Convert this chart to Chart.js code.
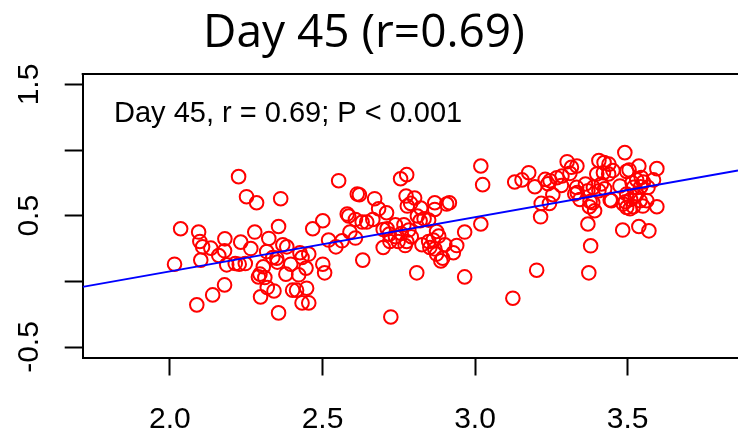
<!DOCTYPE html>
<html>
<head>
<meta charset="utf-8">
<script src="https://cdn.jsdelivr.net/npm/chart.js@4.4.1/dist/chart.umd.min.js"></script>
<style>
  html, body { margin: 0; padding: 0; background: #fff; }
  canvas { display: block; }
</style>
</head>
<body>
<canvas id="chart" width="738" height="434"></canvas>
<script>
// --- data ---
const titleText = 'Day 45 (r=0.69)';
const noteText = 'Day 45, r = 0.69; P < 0.001';

const xTicks = [2.0, 2.5, 3.0, 3.5];
const yTicks = [-0.5, 0, 0.5, 1.0, 1.5];
const yTickLabels = ['-0.5', '', '0.5', '', '1.5'];

// fitted line, drawn edge to edge of the plot box
const lineX = [1.714, 3.862];
const lineY = [-0.042, 0.844];

// left group
const xLeft = [2.225, 2.251, 2.284, 2.363, 2.035, 2.094, 2.098, 2.107, 2.134, 2.160,
  2.180, 2.179, 2.232, 2.265, 2.278, 2.324, 2.356, 2.370, 2.383, 2.317,
  2.015, 2.101, 2.186, 2.214, 2.227, 2.247, 2.350, 2.352, 2.306, 2.295,
  2.311, 2.290, 2.380, 2.396, 2.422, 2.433, 2.426, 2.455, 2.446, 2.501,
  2.507, 2.468, 2.501, 2.179, 2.140, 2.088, 2.319, 2.341, 2.297, 2.402,
  2.415, 2.448, 2.433, 2.455, 2.356, 2.337];
const yLeft = [0.798, 0.645, 0.599, 0.630, 0.401, 0.376, 0.304, 0.263, 0.253, 0.197,
  0.324, 0.233, 0.299, 0.250, 0.376, 0.327, 0.418, 0.279, 0.263, 0.227,
  0.131, 0.162, 0.126, 0.136, 0.131, 0.136, 0.177, 0.147, 0.111, 0.055,
  0.029, 0.034, 0.055, 0.131, 0.050, 0.182, 0.218, 0.208, 0.101, 0.131,
  0.065, 0.401, 0.462, -0.027, -0.103, -0.179, -0.047, -0.073, -0.118, -0.067,
  -0.067, -0.052, -0.164, -0.164, -0.240, 0.182];

// middle group
const xMid = [2.553, 2.614, 2.621, 2.671, 2.684, 2.710, 2.756, 2.776, 2.774, 2.802,
  2.778, 2.789, 2.822, 2.868, 2.868, 2.907, 2.916, 3.019, 3.025, 2.581,
  2.586, 2.608, 2.630, 2.645, 2.665, 2.590, 2.608, 2.564, 2.544, 2.520,
  2.712, 2.739, 2.767, 2.783, 2.719, 2.739, 2.758, 2.791, 2.721, 2.748,
  2.776, 2.699, 2.771, 2.811, 2.833, 2.848, 2.820, 2.874, 2.881, 2.826,
  2.848, 2.852, 2.863, 2.868, 2.874, 2.888, 2.894, 2.901, 2.929, 2.940,
  2.966, 3.019, 2.632, 2.809, 2.966, 2.724, 2.699];
const yMid = [0.767, 0.666, 0.660, 0.630, 0.553, 0.523, 0.782, 0.813, 0.650, 0.635,
  0.574, 0.594, 0.559, 0.599, 0.548, 0.589, 0.599, 0.879, 0.737, 0.513,
  0.498, 0.472, 0.452, 0.452, 0.472, 0.376, 0.330, 0.309, 0.263, 0.315,
  0.401, 0.431, 0.431, 0.391, 0.360, 0.340, 0.365, 0.340, 0.304, 0.304,
  0.304, 0.258, 0.273, 0.498, 0.477, 0.467, 0.462, 0.380, 0.345, 0.279,
  0.304, 0.258, 0.315, 0.248, 0.208, 0.156, 0.177, 0.279, 0.218, 0.273,
  0.376, 0.437, 0.162, 0.065, 0.034, -0.271, 0.395];

// right group
const xRight = [3.130, 3.154, 3.176, 3.196, 3.230, 3.246, 3.239, 3.285, 3.283, 3.302,
  3.311, 3.316, 3.334, 3.255, 3.217, 3.244, 3.215, 3.333, 3.327, 3.344,
  3.370, 3.377, 3.375, 3.392, 3.386, 3.406, 3.423, 3.439, 3.452, 3.399,
  3.421, 3.438, 3.414, 3.425, 3.406, 3.447, 3.491, 3.497, 3.537, 3.596,
  3.475, 3.515, 3.530, 3.545, 3.552, 3.519, 3.543, 3.567, 3.585, 3.497,
  3.530, 3.486, 3.497, 3.519, 3.550, 3.563, 3.596, 3.541, 3.508, 3.493,
  3.370, 3.484, 3.537, 3.570, 3.379, 3.202, 3.373, 3.124, 3.362, 3.268,
  3.443, 3.510, 3.525, 3.388, 3.335, 3.505];
const yRight = [0.757, 0.773, 0.828, 0.721, 0.777, 0.767, 0.744, 0.803, 0.731, 0.912,
  0.823, 0.869, 0.879, 0.660, 0.594, 0.594, 0.492, 0.716, 0.666, 0.624,
  0.691, 0.609, 0.569, 0.538, 0.599, 0.920, 0.905, 0.893, 0.844, 0.818,
  0.828, 0.818, 0.742, 0.706, 0.691, 0.615, 0.981, 0.838, 0.879, 0.859,
  0.727, 0.752, 0.773, 0.792, 0.757, 0.716, 0.721, 0.716, 0.773, 0.666,
  0.666, 0.589, 0.563, 0.569, 0.574, 0.615, 0.569, 0.615, 0.553, 0.607,
  0.437, 0.391, 0.418, 0.385, 0.271, 0.085, 0.065, -0.128, 0.742, 0.790,
  0.620, 0.624, 0.650, 0.716, 0.676, 0.849];

const xValues = [...xLeft, ...xMid, ...xRight];
const yValues = [...yLeft, ...yMid, ...yRight];

// --- helpers ---
function toPoints(xs, ys) {
  return xs.map((x, i) => ({ x: x, y: ys[i] }));
}

// box top edge (R draws a full frame, right side is cut off in the reference)
const frameAndText = {
  id: 'frameAndText',
  afterDraw(chart) {
    const { ctx, chartArea } = chart;
    ctx.save();
    ctx.strokeStyle = '#000';
    ctx.lineWidth = 2;
    ctx.beginPath();
    ctx.moveTo(chartArea.left - 1, chartArea.top);
    ctx.lineTo(chartArea.right + 2, chartArea.top);
    ctx.stroke();

    ctx.fillStyle = '#000';
    ctx.textBaseline = 'alphabetic';
    ctx.textAlign = 'left';
    ctx.font = '46px "Open Sans"';
    ctx.fillText(titleText, 203, 47);

    ctx.font = '29px "Liberation Sans", Arial, sans-serif';
    ctx.fillText(noteText, 114, 122);
    ctx.restore();
  }
};

const ctx = document.getElementById('chart').getContext('2d');
new Chart(ctx, {
  type: 'scatter',
  data: {
    datasets: [
      {
        type: 'line',
        data: toPoints(lineX, lineY),
        borderColor: '#0000ff',
        borderWidth: 2,
        pointRadius: 0,
        fill: false
      },
      {
        data: toPoints(xValues, yValues),
        pointStyle: 'circle',
        pointRadius: 6.8,
        pointBorderWidth: 2,
        pointBorderColor: '#ff0000',
        pointBackgroundColor: 'rgba(0,0,0,0)',
        showLine: false
      }
    ]
  },
  options: {
    responsive: false,
    animation: false,
    layout: { autoPadding: false, padding: { top: 74, left: 0, right: 0, bottom: 0 } },
    plugins: {
      legend: { display: false },
      title: { display: false },
      tooltip: { enabled: false }
    },
    scales: {
      x: {
        type: 'linear',
        min: 1.714,
        max: 3.862,
        afterBuildTicks: (scale) => { scale.ticks = xTicks.map(v => ({ value: v })); },
        afterFit: (scale) => { scale.height = 76.5; },
        ticks: {
          callback: (v) => v.toFixed(1),
          color: '#000',
          font: { family: '"Liberation Sans", Arial, sans-serif', size: 30 },
          padding: 26,
          maxRotation: 0
        },
        grid: { drawOnChartArea: false, tickLength: 18, tickColor: '#000', tickWidth: 2 },
        border: { display: true, color: '#000', width: 2 }
      },
      y: {
        type: 'linear',
        min: -0.58,
        max: 1.58,
        afterBuildTicks: (scale) => { scale.ticks = yTicks.map(v => ({ value: v })); },
        afterFit: (scale) => { scale.width = 82.7; },
        ticks: {
          callback: (v) => {
            const i = yTicks.indexOf(v);
            return i >= 0 ? yTickLabels[i] : '';
          },
          color: '#000',
          font: { family: '"Liberation Sans", Arial, sans-serif', size: 30 },
          minRotation: 90,
          maxRotation: 90,
          crossAlign: 'center',
          padding: 9
        },
        grid: { drawOnChartArea: false, tickLength: 18, tickColor: '#000', tickWidth: 2 },
        border: { display: true, color: '#000', width: 2 }
      }
    }
  },
  plugins: [frameAndText]
});
</script>
</body>
</html>
